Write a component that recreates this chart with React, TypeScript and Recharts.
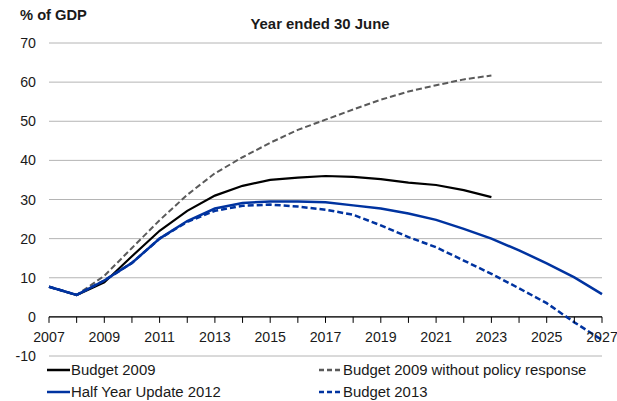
import { LineChart, Line, XAxis, YAxis, CartesianGrid, ReferenceLine, Legend } from "recharts";

const years = [2007, 2008, 2009, 2010, 2011, 2012, 2013, 2014, 2015, 2016, 2017, 2018, 2019, 2020, 2021, 2022, 2023, 2024, 2025, 2026, 2027];

const budget2009 = [7.7, 5.6, 8.8, 15.5, 22.0, 27.1, 31.0, 33.5, 35.0, 35.6, 36.0, 35.8, 35.2, 34.3, 33.7, 32.4, 30.6, null, null, null, null];
const noPolicy = [7.7, 5.6, 10.5, 17.6, 24.7, 31.2, 36.7, 40.8, 44.5, 47.8, 50.4, 53.0, 55.5, 57.6, 59.2, 60.7, 61.7, null, null, null, null];
const halfYear2012 = [7.7, 5.6, 9.3, 13.8, 20.0, 24.5, 27.7, 29.1, 29.5, 29.5, 29.3, 28.5, 27.7, 26.4, 24.8, 22.5, 20.0, 17.0, 13.7, 10.1, 5.8];
const budget2013 = [7.7, 5.6, 9.3, 13.8, 20.0, 24.3, 27.1, 28.4, 28.7, 28.2, 27.4, 26.1, 23.4, 20.4, 17.8, 14.4, 11.0, 7.3, 3.5, -1.4, -5.9];

const seriesNames = ["Budget 2009", "Budget 2009 without policy response", "Half Year Update 2012", "Budget 2013"];
const yTicks = [-10, 0, 10, 20, 30, 40, 50, 60, 70];

const data = years.map((year, i) => ({
  year,
  budget2009: budget2009[i],
  noPolicy: noPolicy[i],
  halfYear2012: halfYear2012[i],
  budget2013: budget2013[i],
}));

const FONT = '"Liberation Sans", Arial, sans-serif';
const BLUE = "#0033a0";
const GREY = "#5a5a5a";

const W = 617;
const H = 401;
const M = { top: 43, right: 15, left: 9, bottom: 15 };
const X_AXIS_H = 30;
const PLOT_TOP = M.top;
const PLOT_H = H - M.top - M.bottom - X_AXIS_H;
const Y_MIN = -10;
const Y_MAX = 70;
// pixel row of the zero line, where the x axis sits
const ZERO_Y = PLOT_TOP + (PLOT_H * (Y_MAX - 0)) / (Y_MAX - Y_MIN);

const YearTick = ({ x, payload }: any) => {
  const yr = payload.value;
  return (
    <g>
      <line x1={x} x2={x} y1={ZERO_Y} y2={ZERO_Y + 6} stroke="#000" strokeWidth={1} />
      {yr % 2 === 1 && (
        <text x={x} y={ZERO_Y + 25} textAnchor="middle" fontSize={14.2} fontFamily={FONT} fill="#1a1a1a">
          {yr}
        </text>
      )}
    </g>
  );
};

const LegendBox = ({ payload }: any) => {
  if (!payload) return null;
  const items = [...payload].sort((a: any, b: any) => seriesNames.indexOf(a.value) - seriesNames.indexOf(b.value));
  return (
    <div style={{ position: "relative", width: W, height: 44 }}>
      {items.map((p: any, i: number) => {
        const col = i % 2;
        const row = Math.floor(i / 2);
        const dashed = p.payload && p.payload.strokeDasharray;
        return (
          <div
            key={p.value}
            style={{
              position: "absolute",
              left: col === 0 ? 47 : 319,
              top: row * 22,
              height: 20,
              display: "flex",
              alignItems: "center",
              fontFamily: FONT,
              fontSize: 14.9,
              color: "#1a1a1a",
              whiteSpace: "nowrap",
            }}
          >
            <svg width={24} height={20} style={{ display: "block" }}>
              <line
                x1={0}
                x2={dashed ? 22 : 23}
                y1={10}
                y2={10}
                stroke={p.color}
                strokeWidth={2.5}
                strokeDasharray={dashed ? "5 3" : undefined}
              />
            </svg>
            <span>{p.value}</span>
          </div>
        );
      })}
    </div>
  );
};

export default function App() {
  return (
    <div style={{ position: "absolute", left: 0, top: 0, width: W, height: H, background: "#fff" }}>
      <LineChart width={W} height={H} data={data} margin={M}>
        <CartesianGrid horizontal vertical={false} stroke="#b4b4b4" strokeWidth={1} />
        <XAxis
          dataKey="year"
          type="number"
          domain={[2007, 2027]}
          ticks={years}
          interval={0}
          height={X_AXIS_H}
          axisLine={false}
          tickLine={false}
          tick={<YearTick />}
        />
        <YAxis
          domain={[Y_MIN, Y_MAX]}
          ticks={yTicks}
          width={40}
          axisLine={false}
          tickLine={false}
          tickSize={0}
          tickMargin={13}
          interval={0}
          tick={{ fontSize: 14.2, fontFamily: FONT, fill: "#1a1a1a" }}
        />
        <ReferenceLine y={0} stroke="#000" strokeWidth={1.3} />
        <Legend
          verticalAlign="middle"
          align="center"
          layout="horizontal"
          content={<LegendBox />}
          wrapperStyle={{ left: 0, top: 360, width: W, height: 44 }}
        />
        <Line dataKey="budget2009" name={seriesNames[0]} stroke="#000" strokeWidth={2.2} dot={false} isAnimationActive={false} />
        <Line dataKey="noPolicy" name={seriesNames[1]} stroke={GREY} strokeWidth={2} strokeDasharray="6 3" dot={false} isAnimationActive={false} />
        <Line dataKey="halfYear2012" name={seriesNames[2]} stroke={BLUE} strokeWidth={2.5} dot={false} isAnimationActive={false} />
        <Line dataKey="budget2013" name={seriesNames[3]} stroke={BLUE} strokeWidth={2.5} strokeDasharray="6 3" dot={false} isAnimationActive={false} />
      </LineChart>
      <div style={{ position: "absolute", left: 20, top: 7, fontFamily: FONT, fontWeight: "bold", fontSize: 14.7, color: "#1a1a1a" }}>
        % of GDP
      </div>
      <div style={{ position: "absolute", left: 0, width: 640, top: 16, textAlign: "center", fontFamily: FONT, fontWeight: "bold", fontSize: 14.9, color: "#1a1a1a" }}>
        Year ended 30 June
      </div>
    </div>
  );
}
